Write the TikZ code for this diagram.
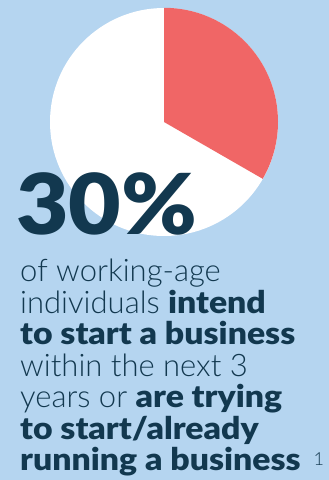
\documentclass[tikz,border=0pt]{standalone}
\usepackage{fontspec}
\setmainfont{Lato Light}
\newfontfamily\heavyfont[FakeStretch=1.09]{Lato Black}
\newfontfamily\bigfont[FakeStretch=1.08]{Lato Black}
\usetikzlibrary{positioning}

\definecolor{skyblue}{HTML}{B5D5F0}
\definecolor{coral}{HTML}{F06666}
\definecolor{inkblue}{HTML}{12384F}
\newcommand{\hv}[1]{{\heavyfont #1}}

\begin{document}
\begin{tikzpicture}[x=1pt,y=1pt,node distance=31.5pt,
    bigfig/.style={text=inkblue,font=\bigfont\fontsize{84}{84}\selectfont,inner sep=0pt,anchor=base west},
    blurb/.style={text=inkblue,font=\fontsize{31}{31.5}\selectfont,inner sep=0pt,anchor=base west}]
    \fill[skyblue] (0,0) rectangle (329,-480);
    \useasboundingbox (0,0) rectangle (329,-480);
    \node[circle,fill=white,minimum size=228pt,inner sep=0pt] (pie) at (164,-122) {};
    \fill[coral] (pie.center) -- (pie.north) arc[start angle=90,end angle=-30,radius=114] -- cycle;
    \node[bigfig] (pct) at (16,-234) {30\%};
    \node[blurb] (l1) at (20,-281.5) {of working-age};
    \node[blurb] (l2) [below=of l1.base west,anchor=base west] {individuals \hv{intend}};
    \node[blurb] (l3) [below=of l2.base west,anchor=base west] {\hv{to start a business}};
    \node[blurb] (l4) [below=of l3.base west,anchor=base west] {within the next 3};
    \node[blurb] (l5) [below=of l4.base west,anchor=base west] {years or \hv{are trying}};
    \node[blurb] (l6) [below=of l5.base west,anchor=base west] {\hv{to start/already}};
    \node[blurb] (l7) [below=of l6.base west,anchor=base west] {\hv{running a business}\hspace{13pt}\raisebox{5pt}{\fontsize{18}{18}\selectfont 1}};
\end{tikzpicture}
\end{document}
